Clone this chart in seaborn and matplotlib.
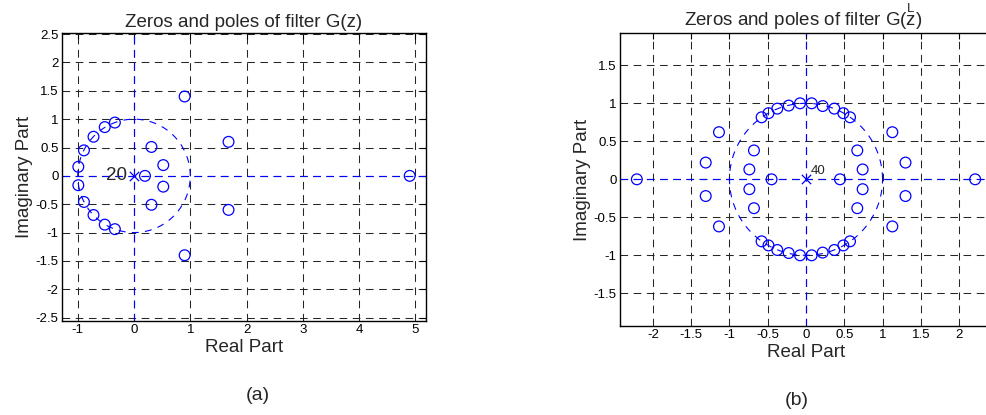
import numpy as np
import pandas as pd
import matplotlib
matplotlib.use("Agg")
import matplotlib.pyplot as plt
import seaborn as sns

sns.set_theme(style="white")
plt.rcParams['font.family'] = ['Liberation Sans', 'DejaVu Sans']
plt.rcParams['mathtext.fontset'] = 'custom'
plt.rcParams['mathtext.rm'] = 'Liberation Sans'
plt.rcParams['mathtext.it'] = 'Liberation Sans'
plt.rcParams['lines.scale_dashes'] = False

# ---- data: panel (a) zeros of G(z) ----
zeros_a_re = [0.90, 0.90, 1.68, 1.68, 4.90, -0.34, -0.34, -0.52, -0.52, -0.72, -0.72,
              -0.89, -0.89, -0.99, -0.99, 0.31, 0.31, 0.52, 0.52, 0.195]
zeros_a_im = [1.40, -1.40, 0.60, -0.60, 0.0, 0.94, -0.94, 0.86, -0.86, 0.69, -0.69,
              0.45, -0.46, 0.16, -0.165, 0.51, -0.51, 0.19, -0.19, 0.0]
poles_a_re = [0.0]
poles_a_im = [0.0]
pole_mult_a = "20"

# ---- data: panel (b) zeros of G(z^L) ----
zeros_b_re = [-2.21, 2.21, -0.45, 0.444,
              -1.31, -1.31, -1.137, -1.137, 1.128, 1.128, 1.30, 1.30,
              -0.68, -0.68, -0.74, -0.74, 0.67, 0.67, 0.74, 0.74,
              -0.58, -0.58, -0.49, -0.49, -0.375, -0.375, -0.226, -0.226, -0.078, -0.078,
              0.074, 0.074, 0.218, 0.218, 0.37, 0.37, 0.488, 0.488, 0.575, 0.575]
zeros_b_im = [0.0, 0.0, 0.0, 0.0,
              0.22, -0.22, 0.62, -0.62, 0.62, -0.62, 0.22, -0.22,
              0.38, -0.38, 0.13, -0.13, 0.38, -0.38, 0.13, -0.13,
              0.816, -0.816, 0.87, -0.87, 0.93, -0.93, 0.97, -0.97, 1.0, -1.0,
              1.0, -1.0, 0.964, -0.964, 0.93, -0.93, 0.87, -0.87, 0.816, -0.816]
poles_b_re = [0.0]
poles_b_im = [0.0]
pole_mult_b = "40"

xticks_a = [-1, 0, 1, 2, 3, 4, 5]
yticks_a = [-2.5, -2, -1.5, -1, -0.5, 0, 0.5, 1, 1.5, 2, 2.5]
xticks_b = [-2, -1.5, -1, -0.5, 0, 0.5, 1, 1.5, 2]
yticks_b = [-1.5, -1, -0.5, 0, 0.5, 1, 1.5]

W, H = 986, 415
fig = plt.figure(figsize=(W / 100, H / 100), dpi=100)

def px_axes(l, t, r, b):
    return fig.add_axes([l / W, 1 - b / H, (r - l) / W, (b - t) / H])

ax_a = px_axes(62, 33, 426, 321)
ax_b = px_axes(620, 33, 992, 326)

BLUE = '#0000ff'
dash = (0, (5.5, 4))

def draw(ax, zr, zi, pr, pi, xlim, ylim, xt, yt, mult, mult_kw):
    ax.set_xlim(*xlim)
    ax.set_ylim(*ylim)
    ax.set_xticks(xt)
    ax.set_yticks(yt)
    ax.set_xticklabels([f"{v:g}" for v in xt])
    ax.set_yticklabels([f"{v:g}" for v in yt])
    ax.grid(True, color='0.15', linestyle=dash, linewidth=0.75, zorder=0)
    ax.set_axisbelow(True)
    # unit circle and axes lines (zplane style)
    th = np.linspace(0, 2 * np.pi, 400)
    ax.plot(np.cos(th), np.sin(th), color=BLUE, linestyle=(0, (5, 4.5)), linewidth=0.8, zorder=2)
    ax.axhline(0, color=BLUE, linestyle=dash, linewidth=0.85, zorder=2)
    ax.axvline(0, color=BLUE, linestyle=dash, linewidth=0.85, zorder=2)
    dz = pd.DataFrame({'re': zr, 'im': zi})
    sns.scatterplot(data=dz, x='re', y='im', ax=ax, marker='o', s=60,
                    facecolors='none', edgecolors=BLUE, linewidth=0.9, zorder=3)
    dp = pd.DataFrame({'re': pr, 'im': pi})
    sns.scatterplot(data=dp, x='re', y='im', ax=ax, marker='x', s=45,
                    color=BLUE, linewidth=0.9, zorder=3)
    ax.text(s=mult, zorder=5, **mult_kw)
    for sp in ax.spines.values():
        sp.set_color('black')
        sp.set_linewidth(1.0)
    ax.tick_params(direction='in', length=4, width=0.8, top=True, right=True,
                   labelsize=9.5, colors='black', pad=2.5)
    ax.set_xlabel('Real Part', fontsize=13.5, labelpad=2)
    ax.set_ylabel('Imaginary Part', fontsize=13.5, labelpad=2)

draw(ax_a, zeros_a_re, zeros_a_im, poles_a_re, poles_a_im,
     (-1.28, 5.19), (-2.56, 2.52), xticks_a, yticks_a, pole_mult_a,
     dict(x=-0.13, y=0.0, ha='right', va='center', fontsize=13.5))
draw(ax_b, zeros_b_re, zeros_b_im, poles_b_re, poles_b_im,
     (-2.43, 2.43), (-1.93, 1.925), xticks_b, yticks_b, pole_mult_b,
     dict(x=0.06, y=0.03, ha='left', va='bottom', fontsize=9.5))

ax_a.set_title('Zeros and poles of filter G(z)', fontsize=13.5, pad=4)
fig.text(803 / W, 1 - 17 / H, r'Zeros and poles of filter G($\overset{L}{z}$)',
         ha='center', va='center', fontsize=13.5)

fig.text(258 / W, 1 - 395 / H, '(a)', ha='center', va='center', fontsize=14)
fig.text(797 / W, 1 - 400 / H, '(b)', ha='center', va='center', fontsize=14)

fig.savefig('out.png', dpi=100)
